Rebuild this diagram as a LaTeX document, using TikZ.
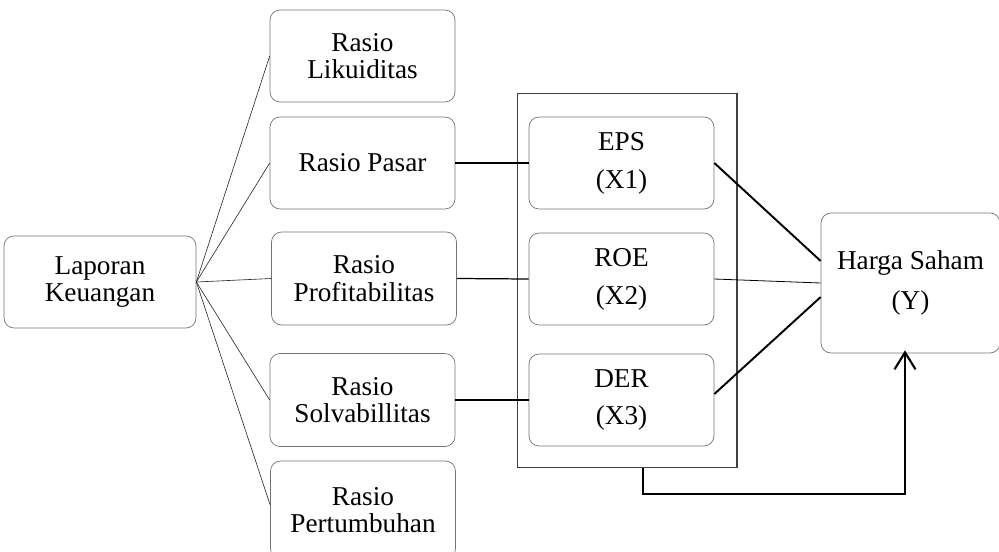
\documentclass[tikz,border=0pt]{standalone}
\usepackage{fontspec}
\setmainfont{Liberation Serif}
\usetikzlibrary{arrows.meta}
\begin{document}
\begin{tikzpicture}[x=0.02cm, y=-0.02cm,
    box/.style={draw=black!55, rounded corners=0.2cm, align=center, minimum width=3.7cm, minimum height=1.84cm, inner sep=0pt, font=\fontsize{15.5pt}{15.5pt}\selectfont},
    varbox/.style={box, font=\fontsize{15.5pt}{21.5pt}\selectfont},
    fan/.style={draw=black!85, line width=0.35pt},
    link/.style={draw=black, line width=0.7pt}]
  \useasboundingbox (0,0) rectangle (999,551);

  \node[box, minimum width=3.84cm] (lap) at (100,282) {Laporan\\Keuangan};
  \node[box] (lik) at (362.5,56) {Rasio\\Likuiditas};
  \node[box] (pas) at (362.5,163) {Rasio Pasar};
  \node[box, minimum height=1.86cm] (pro) at (364,278.5) {Rasio\\Profitabilitas};
  \node[box, minimum height=1.86cm] (sol) at (362.5,400) {Rasio\\Solvabillitas};
  \node[box, minimum height=1.96cm] (per) at (363,510) {Rasio\\Pertumbuhan};

  \node[draw=black!75, line width=0.6pt, minimum width=4.4cm, minimum height=7.48cm, inner sep=0pt] (grp) at (627,280.5) {};
  \node[varbox] (eps) at (621.5,163) {EPS\\(X1)};
  \node[varbox] (roe) at (621.5,279) {ROE\\(X2)};
  \node[varbox, minimum height=1.84cm] (der) at (621.5,400) {DER\\(X3)};

  \node[varbox, minimum width=3.58cm, minimum height=2.8cm, font=\fontsize{15.5pt}{23pt}\selectfont] (hs) at (910.5,283) {Harga Saham\\(Y)};

  % laporan ke rasio
  \draw[fan] (lap.east) -- (lik.west);
  \draw[fan] (lap.east) -- (pas.west);
  \draw[fan] (lap.east) -- (pro.west);
  \draw[fan] (lap.east) -- (sol.west);
  \draw[fan] (lap.east) -- ([yshift=0.1cm]per.west);

  % rasio ke variabel
  \draw[link] (pas.east) -- (eps.west);
  \draw[link] (pro.east) -- (roe.west);
  \draw[link] (sol.east) -- (der.west);

  % variabel ke harga saham
  \draw[line width=1.1pt] (eps.east) -- ([yshift=0.44cm]hs.west);
  \draw[line width=0.45pt] (roe.east) -- (hs.west);
  \draw[line width=1.1pt] ([yshift=0.12cm]der.east) -- ([yshift=-0.28cm]hs.west);
  \draw[line width=1.2pt, -{Straight Barb[length=0.34cm, width=0.42cm]}, shorten >=-0.06cm] ([xshift=0.32cm]grp.south) -- ++(0,26) -| ([xshift=-0.11cm]hs.south);
\end{tikzpicture}
\end{document}
